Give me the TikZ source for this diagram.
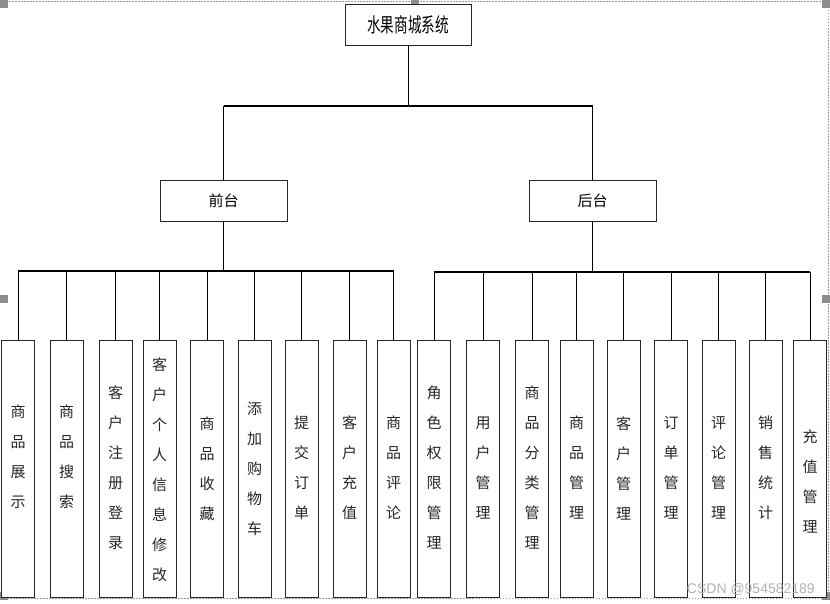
\documentclass[tikz,border=0pt]{standalone}
\usepackage{fontspec}
\newfontfamily\cjk{Noto Sans CJK SC}
\setsansfont{Liberation Sans}
\usepackage{graphicx}
\begin{document}
\begin{tikzpicture}[x=1pt,y=-1pt,
 box/.style={draw=black!85,line width=0.9pt,fill=white,inner sep=0pt},
 leaf/.style={box,minimum width=33pt,minimum height=257pt},
 midbox/.style={box,minimum width=127pt,minimum height=41pt,font=\cjk\fontsize{15}{15}\selectfont},
 vtext/.style={font=\cjk\fontsize{15}{30}\selectfont,align=center,inner sep=0pt,text=black!85},
 link/.style={line width=0.9pt},
 bus/.style={line width=1.8pt},
 handle/.style={fill=gray!90,draw=none},
 frame/.style={draw=gray!80,line width=0.6pt,dash pattern=on 1.5pt off 1.5pt}]
\useasboundingbox (0,0) rectangle (830,604);

% selection frame
\draw[frame] (0,1) -- (828,1) -- (828,598) -- (0,598);
\foreach \hx/\hy in {0/0,411/0,822/0,0/295,822/295,0/592,822/592}
  \fill[handle] (\hx,\hy) rectangle ++(8,8);

% top
\node[box,minimum width=126pt,minimum height=41pt] (root) at (408,24.5)
  {\scalebox{0.68}[1]{\cjk\fontsize{20}{20}\selectfont 水果商城系统}};
\node[midbox] (qt) at (223.5,200.5) {前台};
\node[midbox] (ht) at (592.5,200.5) {后台};

\coordinate (b0) at (408,106);
\coordinate (b1) at (0,271);
\coordinate (b2) at (0,272);

\draw[link] (root.south) -- (root.south |- b0);
\draw[bus] (qt.north |- b0) -- (ht.north |- b0);
\draw[link] (qt.north |- b0) -- (qt.north);
\draw[link] (ht.north |- b0) -- (ht.north);

% front leaves
\foreach \n/\x/\ty/\t in {
  L1/18/457/{商\\品\\展\\示},
  L2/66.5/457/{商\\品\\搜\\索},
  L3/115.5/468/{客\\户\\注\\册\\登\\录},
  L4/159.5/470/{客\\户\\个\\人\\信\\息\\修\\改},
  L5/207/469/{商\\品\\收\\藏},
  L6/254.5/469/{添\\加\\购\\物\\车},
  L7/301.5/468/{提\\交\\订\\单},
  L8/349.5/468/{客\\户\\充\\值},
  L9/393.5/468/{商\\品\\评\\论}}{
  \node[leaf] (\n) at (\x,468.5) {};
  \node[vtext] (\n-t) at (\x,\ty) {\t};
  \draw[link] (\n.north |- b1) -- (\n.north);
}
\draw[link] (qt.south) -- (qt.south |- b1);
\draw[bus] (L1.north |- b1) -- (L9.north |- b1);

% back leaves
\foreach \n/\x/\ty/\t in {
  R1/434/468/{角\\色\\权\\限\\管\\理},
  R2/483/468/{用\\户\\管\\理},
  R3/532/468/{商\\品\\分\\类\\管\\理},
  R4/576.5/468/{商\\品\\管\\理},
  R5/623.5/468/{客\\户\\管\\理},
  R6/671/468/{订\\单\\管\\理},
  R7/718.5/468/{评\\论\\管\\理},
  R8/765.5/468/{销\\售\\统\\计},
  R9/810/482/{充\\值\\管\\理}}{
  \node[leaf] (\n) at (\x,468.5) {};
  \node[vtext] (\n-t) at (\x,\ty) {\t};
  \draw[link] (\n.north |- b2) -- (\n.north);
}
\draw[link] (ht.south) -- (ht.south |- b2);
\draw[bus] (R1.north |- b2) -- (R9.north |- b2);

% watermark
\node[font=\sffamily\fontsize{14}{14}\selectfont,text=gray!60,anchor=east,inner sep=0pt] (wm) at (815,589) {CSDN @954582189};
\end{tikzpicture}
\end{document}
